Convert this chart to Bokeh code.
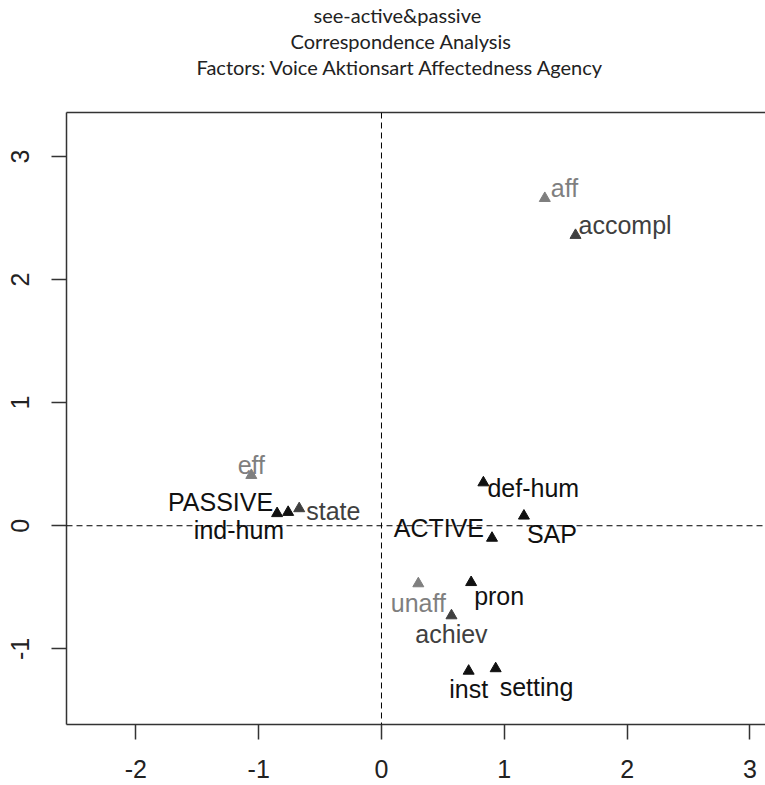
from bokeh.plotting import figure
from bokeh.models import ColumnDataSource, Span, LinearAxis, FixedTicker, Range1d, Title
from bokeh.core.properties import value
from bokeh.embed import file_html
from bokeh.resources import INLINE

# ---- data ----
labels = ["aff", "accompl", "eff", "PASSIVE", "ind-hum", "state", "def-hum",
          "ACTIVE", "SAP", "unaff", "pron", "achiev", "inst", "setting"]
dim1 = [1.33, 1.58, -1.06, -0.85, -0.76, -0.67, 0.83,
        0.90, 1.16, 0.30, 0.73, 0.57, 0.71, 0.93]
dim2 = [2.66, 2.36, 0.41, 0.10, 0.11, 0.14, 0.35,
        -0.10, 0.08, -0.47, -0.46, -0.73, -1.18, -1.16]
factor = ["Affectedness", "Aktionsart", "Affectedness", "Voice", "Agency", "Aktionsart", "Agency",
          "Voice", "Agency", "Affectedness", "Agency", "Aktionsart", "Agency", "Agency"]
x_ticks = [-2, -1, 0, 1, 2, 3]
x_tick_labels = ["-2", "-1", "0", "1", "2", "3"]
y_ticks = [-1, 0, 1, 2, 3]
y_tick_labels = ["-1", "0", "1", "2", "3"]
title_lines = ["see-active&passive", "Correspondence Analysis",
               "Factors: Voice Aktionsart Affectedness Agency"]

# ---- styling ----
factor_colors = {"Voice": "#111111", "Agency": "#111111",
                 "Aktionsart": "#404040", "Affectedness": "#7f7f7f"}
# label placement relative to each point (pixels): align, dx, dy
label_style = {
    "aff": ("left", 6, -10), "accompl": ("left", 3, -10), "eff": ("center", 0, -10),
    "PASSIVE": ("right", -4, -11), "ind-hum": ("right", -4, 18), "state": ("left", 7, 2),
    "def-hum": ("left", 4, 5), "ACTIVE": ("right", -8, -10), "SAP": ("left", 3, 18),
    "unaff": ("center", 0, 19), "pron": ("left", 3, 14), "achiev": ("center", 0, 18),
    "inst": ("center", 0, 18), "setting": ("left", 4, 18),
}
title_offsets = [247, 224, 130]   # left offset of each title line from the frame's left edge

src = ColumnDataSource(dict(
    x=dim1, y=dim2, label=labels,
    color=[factor_colors[f] for f in factor],
    align=[label_style[l][0] for l in labels],
    dx=[label_style[l][1] for l in labels],
    dy=[label_style[l][2] for l in labels],
))

W, H = 765, 785
left, top, bottom = 66, 112, 61
frame_w = W - left
frame_h = H - top - bottom
ppu_x, ppu_y = 122.8, 123.1
x0 = -2.565
y1 = 3.357

p = figure(width=W, height=H, output_backend="svg", toolbar_location=None,
           x_range=Range1d(x0, x0 + frame_w / ppu_x),
           y_range=Range1d(y1 - frame_h / ppu_y, y1),
           min_border_left=left, min_border_right=0, min_border_top=top,
           min_border_bottom=bottom, x_axis_location=None, y_axis_location=None)
p.grid.visible = False
p.outline_line_color = None
p.background_fill_color = "white"
p.border_fill_color = "white"

axis_col = "#333333"
def style_axis(ax, ticks, tick_labels):
    ax.ticker = FixedTicker(ticks=ticks)
    ax.major_label_overrides = {t: s for t, s in zip(ticks, tick_labels)}
    ax.axis_line_color = axis_col
    ax.axis_line_width = 1.5
    ax.major_tick_line_color = axis_col
    ax.major_tick_line_width = 1.5
    ax.major_tick_out = 15
    ax.major_tick_in = 0
    ax.minor_tick_line_color = None
    ax.major_label_text_font = "Liberation Sans"
    ax.major_label_text_font_size = "25px"
    ax.major_label_text_color = "#222222"

# top edge of the box (no ticks); an invisible axis label leaves room before the title lines
ta = LinearAxis()
ta.ticker = FixedTicker(ticks=[])
ta.axis_line_color = axis_col
ta.axis_line_width = 1.5
ta.major_tick_line_color = None
ta.minor_tick_line_color = None
ta.major_label_text_font_size = "0px"
ta.axis_label = "\u00a0"
ta.axis_label_text_font_size = "20px"
ta.axis_label_text_color = None
ta.axis_label_standoff = 9
p.add_layout(ta, "above")

for line, off in reversed(list(zip(title_lines, title_offsets))):
    p.add_layout(Title(text=line, align="left", offset=off, text_font="Lato",
                       text_font_size="20px", text_font_style="normal",
                       text_color="#222222", standoff=0), "above")

xa = LinearAxis()
style_axis(xa, x_ticks, x_tick_labels)
xa.major_label_standoff = 20
p.add_layout(xa, "below")

ya = LinearAxis()
style_axis(ya, y_ticks, y_tick_labels)
ya.major_label_orientation = "vertical"
ya.major_label_standoff = 22
p.add_layout(ya, "left")

p.add_layout(Span(location=0, dimension="width", line_color="black",
                  line_dash="6 4", line_width=1))
p.add_layout(Span(location=0, dimension="height", line_color="black",
                  line_dash="6 4", line_width=1))

p.scatter("x", "y", source=src, marker="triangle", size=11,
          fill_color="color", line_color="color")
p.text("x", "y", text="label", source=src, x_offset="dx", y_offset="dy",
       text_align="align", text_baseline="middle", text_color="color",
       text_font=value("Liberation Sans"), text_font_size="25px")

open("out.html", "w").write(file_html(p, INLINE))
